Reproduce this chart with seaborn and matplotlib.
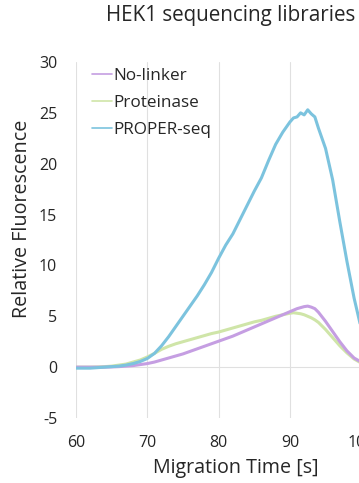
import numpy as np
import pandas as pd
import seaborn as sns
import matplotlib
matplotlib.use("Agg")
import matplotlib.pyplot as plt
from matplotlib.lines import Line2D

# Electropherogram traces: migration time [s] vs relative fluorescence
time = [60, 61, 62, 63, 64, 65, 66, 67, 68, 69, 70, 71, 72, 73, 74, 75, 76, 77,
        78, 79, 80, 81, 82, 83, 84, 85, 86, 87, 88, 89, 90, 90.5, 91, 91.5, 92,
        92.5, 93, 93.5, 94, 95, 96, 97, 98, 99, 100, 101, 102, 103, 104, 105]

no_linker = [0.0, 0.0, 0.0, 0.0, 0.0, 0.02, 0.05, 0.1, 0.15, 0.25, 0.35, 0.5,
             0.7, 0.9, 1.1, 1.3, 1.55, 1.8, 2.05, 2.3, 2.55, 2.8, 3.05, 3.35,
             3.65, 3.95, 4.25, 4.55, 4.85, 5.15, 5.45, 5.6, 5.75, 5.85, 5.95,
             6.0, 5.9, 5.75, 5.4, 4.5, 3.5, 2.5, 1.6, 0.9, 0.5, 0.3, 0.15,
             0.1, 0.05, 0.0]

proteinase = [0.0, 0.0, 0.0, 0.02, 0.05, 0.1, 0.2, 0.3, 0.5, 0.7, 1.0, 1.35,
              1.75, 2.05, 2.3, 2.5, 2.7, 2.9, 3.1, 3.3, 3.45, 3.65, 3.85, 4.05,
              4.25, 4.45, 4.6, 4.8, 5.0, 5.15, 5.3, 5.35, 5.3, 5.25, 5.15,
              5.0, 4.85, 4.65, 4.4, 3.7, 2.9, 2.1, 1.4, 0.8, 0.4, 0.2, 0.1,
              0.05, 0.0, 0.0]

proper_seq = [-0.1, -0.1, -0.1, -0.05, 0.0, 0.05, 0.1, 0.2, 0.35, 0.55, 0.85,
              1.35, 2.1, 3.0, 4.0, 5.0, 6.0, 7.0, 8.1, 9.3, 10.7, 12.0, 13.1,
              14.5, 15.9, 17.3, 18.6, 20.3, 21.9, 23.1, 24.1, 24.5, 24.6, 25.0,
              24.8, 25.3, 24.9, 24.6, 23.5, 21.5, 18.4, 14.3, 10.4, 6.8, 3.8,
              1.8, 0.8, 0.3, 0.1, 0.05]

series_names = ["No-linker", "Proteinase", "PROPER-seq"]
series_colors = {"No-linker": "#c59ee2", "Proteinase": "#cfe5a8", "PROPER-seq": "#7cc3de"}

df = pd.concat([
    pd.DataFrame({"time": time, "rfu": no_linker, "sample": "No-linker"}),
    pd.DataFrame({"time": time, "rfu": proteinase, "sample": "Proteinase"}),
    pd.DataFrame({"time": time, "rfu": proper_seq, "sample": "PROPER-seq"}),
])

x_ticks = [60, 70, 80, 90, 100]
y_ticks = [-5, 0, 5, 10, 15, 20, 25, 30]
text_color = "#262626"
grid_color = "#e0e0e0"

sns.set_theme(style="white")
plt.rcParams["font.family"] = ["Open Sans", "DejaVu Sans"]

W, H = 359, 483
fig = plt.figure(figsize=(W / 100, H / 100), dpi=100)
# plot area: x = 60 at 76 px, 71.3 px per 10 s; y from -5 (418 px) to 30 (62 px)
ax = fig.add_axes([76 / W, (H - 418) / H, 45 * 7.13 / W, 356 / H])

sns.lineplot(data=df, x="time", y="rfu", hue="sample",
             hue_order=["Proteinase", "No-linker", "PROPER-seq"],
             palette=series_colors, linewidth=2.2, ax=ax, legend=False,
             estimator=None, sort=False)

ax.set_xlim(60, 105)
ax.set_ylim(-5, 30)
ax.set_xticks(x_ticks)
ax.set_yticks(y_ticks)
ax.set_yticklabels([str(v) for v in y_ticks])
ax.tick_params(axis="both", length=0, labelsize=11.5, colors=text_color)
ax.tick_params(axis="y", pad=13.5)
ax.tick_params(axis="x", pad=12.5)

for s in ax.spines.values():
    s.set_visible(False)
ax.grid(False)
for xv in x_ticks:
    ax.axvline(xv, color=grid_color, lw=0.8, zorder=0)
ax.axhline(0, color=grid_color, lw=0.8, zorder=0)

ax.set_xlabel("")
ax.set_ylabel("")
fig.text(236 / W, 1 - 468 / H, "Migration Time [s]", ha="center", va="center",
         fontsize=14.2, color=text_color)
fig.text(22 / W, 1 - 219 / H, "Relative Fluorescence", rotation=90,
         ha="center", va="center", fontsize=14.2, color=text_color)
fig.text(106 / W, 1 - 16 / H, "HEK1 sequencing libraries", ha="left",
         va="center", fontsize=14.9, color=text_color)

handles = [Line2D([0], [0], color=series_colors[n], lw=1.2) for n in series_names]
ax.legend(handles, series_names, loc="upper left", bbox_to_anchor=(0.05, 0.983),
          frameon=False, fontsize=12.3, handlelength=1.15, handletextpad=0.12,
          labelspacing=0.64, borderpad=0, borderaxespad=0,
          labelcolor=text_color)

fig.savefig("out.png", dpi=100)
